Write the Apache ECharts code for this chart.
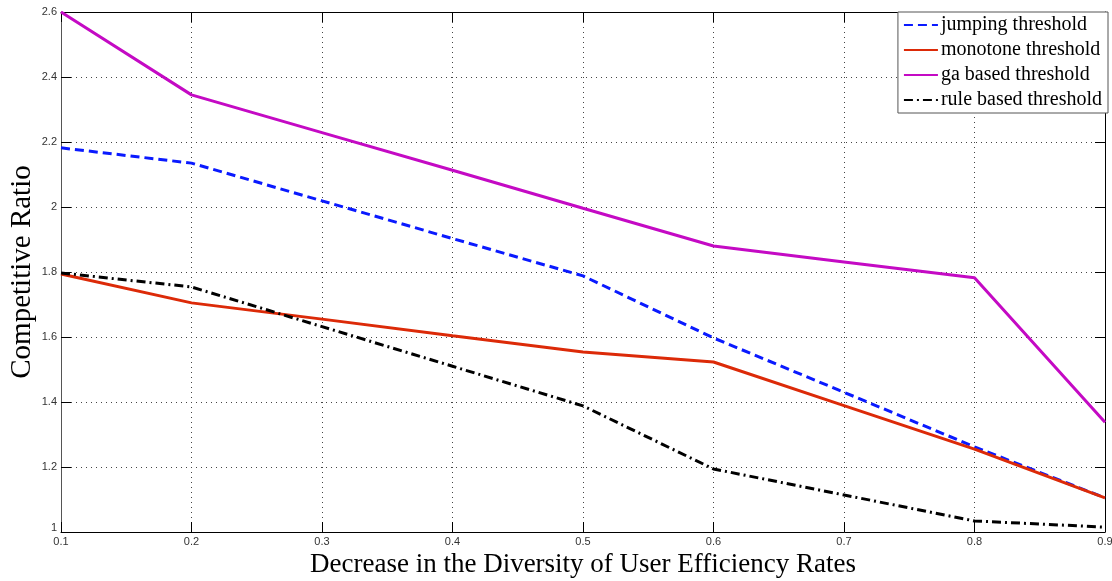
<!DOCTYPE html>
<html>
<head>
<meta charset="utf-8">
<script src="https://cdn.jsdelivr.net/npm/echarts@6/dist/echarts.min.js"></script>
<style>
  html, body { margin: 0; padding: 0; background: #fff; }
  #chart { width: 1112px; height: 581px; }
</style>
</head>
<body>
<div id="chart"></div>
<script>
// Decrease in diversity of user efficiency rates (x) vs competitive ratio (y)
const xValues = [0.1, 0.2, 0.3, 0.4, 0.5, 0.6, 0.7, 0.8, 0.9];
const jumping  = [2.182, 2.135, 2.019, 1.903, 1.788, 1.597, 1.430, 1.262, 1.105];
const monotone = [1.794, 1.705, 1.655, 1.604, 1.554, 1.523, 1.389, 1.255, 1.105];
const gaBased  = [2.600, 2.345, 2.229, 2.113, 1.996, 1.880, 1.831, 1.782, 1.338];
const ruleBased = [1.797, 1.754, 1.632, 1.510, 1.388, 1.194, 1.114, 1.034, 1.015];
const seriesNames = ['jumping threshold', 'monotone threshold', 'ga based threshold', 'rule based threshold'];
const xTitle = 'Decrease in the Diversity of User Efficiency Rates';
const yTitle = 'Competitive Ratio';

const toPairs = arr => arr.map((v, i) => [xValues[i], v]);
const trim = v => parseFloat(v.toFixed(2)).toString();
const serif = 'Liberation Serif, Times New Roman, serif';

const chart = echarts.init(document.getElementById('chart'), null, { renderer: 'canvas' });

const gridLine = { show: true, lineStyle: { color: '#444', type: [1, 4], width: 1 } };
const tickLabel = { color: '#333', fontFamily: 'Liberation Sans, Arial', fontSize: 11 };

const mkSeries = (name, data, color, type) => ({
  name, type: 'line', data: toPairs(data), symbol: 'none', smooth: false,
  lineStyle: { color, width: 3, type },
  itemStyle: { color },
  z: 3
});

chart.setOption({
  animation: false,
  grid: { left: 61, right: 7, top: 12, bottom: 49, containLabel: false, outerBoundsMode: 'none' },
  legend: {
    right: 4, top: 12,
    orient: 'vertical',
    itemWidth: 34, itemHeight: 10, itemGap: 5,
    backgroundColor: '#fff',
    borderColor: '#555', borderWidth: 1, borderRadius: 0,
    padding: [3, 6, 3, 5],
    itemStyle: { opacity: 0 },
    textStyle: { fontFamily: serif, fontSize: 20, color: '#000', padding: [0, 0, 0, -2] },
    data: seriesNames
  },
  xAxis: [{
    type: 'value', min: 0.1, max: 0.9, interval: 0.1,
    name: xTitle, nameLocation: 'middle', nameGap: 19,
    nameTextStyle: { fontFamily: serif, fontSize: 27, color: '#000' },
    axisLine: { show: true, onZero: false, lineStyle: { color: '#000', width: 1 } },
    axisTick: { show: true, inside: true, length: 10, lineStyle: { color: '#000' } },
    axisLabel: Object.assign({ margin: 4, formatter: trim }, tickLabel),
    splitLine: gridLine
  }, {
    type: 'value', min: 0.1, max: 0.9, interval: 0.1, position: 'top',
    axisLine: { show: true, onZero: false, lineStyle: { color: '#000', width: 1 } },
    axisTick: { show: true, inside: true, length: 10, lineStyle: { color: '#000' } },
    axisLabel: { show: false }, splitLine: { show: false }
  }],
  yAxis: [{
    type: 'value', min: 1, max: 2.6, interval: 0.2,
    name: yTitle, nameLocation: 'middle', nameGap: 24, nameRotate: 90,
    nameMoveOverlap: false,
    nameTextStyle: { fontFamily: serif, fontSize: 29, color: '#000' },
    axisLine: { show: true, onZero: false, lineStyle: { color: '#555', width: 1 } },
    axisTick: { show: true, inside: true, length: 10, lineStyle: { color: '#000' } },
    axisLabel: Object.assign({
      margin: 4,
      formatter: v => (Math.abs(v - 1) < 1e-9 ? '{low|1}' : trim(v)),
      rich: { low: { fontFamily: 'Liberation Sans, Arial', fontSize: 11, color: '#333', padding: [0, 0, 9, 0] } }
    }, tickLabel),
    splitLine: gridLine
  }, {
    type: 'value', min: 1, max: 2.6, interval: 0.2, position: 'right',
    axisLine: { show: true, onZero: false, lineStyle: { color: '#000', width: 1 } },
    axisTick: { show: true, inside: true, length: 10, lineStyle: { color: '#000' } },
    axisLabel: { show: false }, splitLine: { show: false }
  }],
  series: [
    mkSeries(seriesNames[0], jumping, '#0a1aff', [9, 5]),
    mkSeries(seriesNames[1], monotone, '#dc2a08', 'solid'),
    mkSeries(seriesNames[2], gaBased, '#c40ac4', 'solid'),
    mkSeries(seriesNames[3], ruleBased, '#000000', [9, 4, 2, 4])
  ]
});
</script>
</body>
</html>
